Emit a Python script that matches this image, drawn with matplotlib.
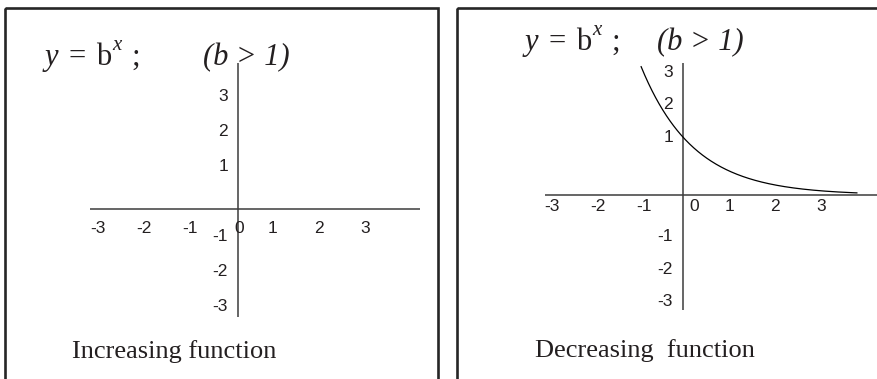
import numpy as np
import matplotlib
matplotlib.use("Agg")
import matplotlib.pyplot as plt
from matplotlib.patches import Rectangle

# ---- content -------------------------------------------------------------
tick_values = [-3, -2, -1, 0, 1, 2, 3]
y_tick_values = [3, 2, 1, -1, -2, -3]
# formula pieces: text, italic?, superscript?
formula_parts = [("y", True, False), ("=", False, False), ("b", False, False),
                 ("x", True, True), (";", False, False)]
condition = "(b > 1)"
captions = ["Increasing function", "Decreasing  function"]
base = 2.4                       # base of the plotted exponential
curve_x_range = (-0.91, 3.78)    # domain drawn for the decreasing curve

# ---- layout (pixels) -----------------------------------------------------
W, H, DPI = 878, 379, 100
INK = "#231f20"
AXIS = "#3c3c3c"
part_offsets = [0, 24, 51, 67, 86]   # horizontal advance of formula pieces

fig = plt.figure(figsize=(W / DPI, H / DPI), dpi=DPI)
fig.patch.set_facecolor("white")

canvas = fig.add_axes([0, 0, 1, 1])
canvas.set_xlim(0, W)
canvas.set_ylim(H, 0)
canvas.axis("off")

# panel frames (open at the bottom of the figure)
for x0, x1 in [(5, 438), (457, W + 20)]:
    canvas.add_patch(Rectangle((x0, 8), x1 - x0, H + 20, fill=False,
                               edgecolor="#262626", linewidth=1.9,
                               zorder=5))

panels = [
    dict(origin=(238, 209), ux=46, uy=35, hline=(-3.22, 3.96),
         vline=(-3.09, 4.17), xneg=-0.05, xpos=-0.24, zero=0.02,
         ypos=0.22, yneg=0.22, xlab_y=-0.57, title=(45, 65, 203),
         caption=(72, 358)),
    dict(origin=(683, 195), ux=46, uy=32.5, hline=(-3.0, 4.4),
         vline=(-3.54, 4.06), xneg=0.15, xpos=0.0, zero=0.24,
         ypos=0.78, yneg=-0.28, xlab_y=-0.34, title=(525, 50, 657),
         caption=(535, 357)),
]

tick_font = dict(family="Liberation Sans", fontsize=12.5, color=INK)

for i, p in enumerate(panels):
    ox, oy = p["origin"]
    ux, uy = p["ux"], p["uy"]
    ax = fig.add_axes([0, 0, 1, 1])
    ax.patch.set_alpha(0)
    ax.set_xlim(-ox / ux, (W - ox) / ux)
    ax.set_ylim(-(H - oy) / uy, oy / uy)
    ax.axis("off")

    # coordinate axes
    ax.plot(p["hline"], [0, 0], color=AXIS, lw=1.1, solid_capstyle="butt")
    ax.plot([0, 0], p["vline"], color=AXIS, lw=1.1, solid_capstyle="butt")

    # x tick labels
    for v in tick_values:
        if v == 0:
            xp = p["zero"]
        elif v < 0:
            xp = v + p["xneg"]
        else:
            xp = v + p["xpos"]
        ax.text(xp, p["xlab_y"], str(v), ha="center", va="center",
                **tick_font)

    # y tick labels
    for v in y_tick_values:
        yp = v + (p["ypos"] if v > 0 else p["yneg"])
        ax.text(-0.22, yp, str(v), ha="right", va="center", **tick_font)

    # decreasing curve on the right panel, through the level of label "1"
    if i == 1:
        xs = np.linspace(*curve_x_range, 300)
        ys = (1 + p["ypos"]) * base ** (-xs)
        ax.plot(xs, ys, color="black", lw=0.9)

    # formula
    tx, ty, cx = p["title"]
    for (txt, italic, sup), dx in zip(formula_parts, part_offsets):
        canvas.text(tx + dx, ty - (15 if sup else 0), txt,
                    fontsize=15 if sup else 22, color=INK, va="baseline",
                    ha="left", family="Liberation Serif",
                    style="italic" if italic else "normal")
    canvas.text(cx, ty, condition, fontsize=22, color=INK, va="baseline",
                ha="left", family="Liberation Serif", style="italic")

    # caption
    capx, capy = p["caption"]
    canvas.text(capx, capy, captions[i], fontsize=19, color=INK,
                va="baseline", ha="left", family="Liberation Serif")

fig.savefig("out.png", dpi=DPI, facecolor="white")
